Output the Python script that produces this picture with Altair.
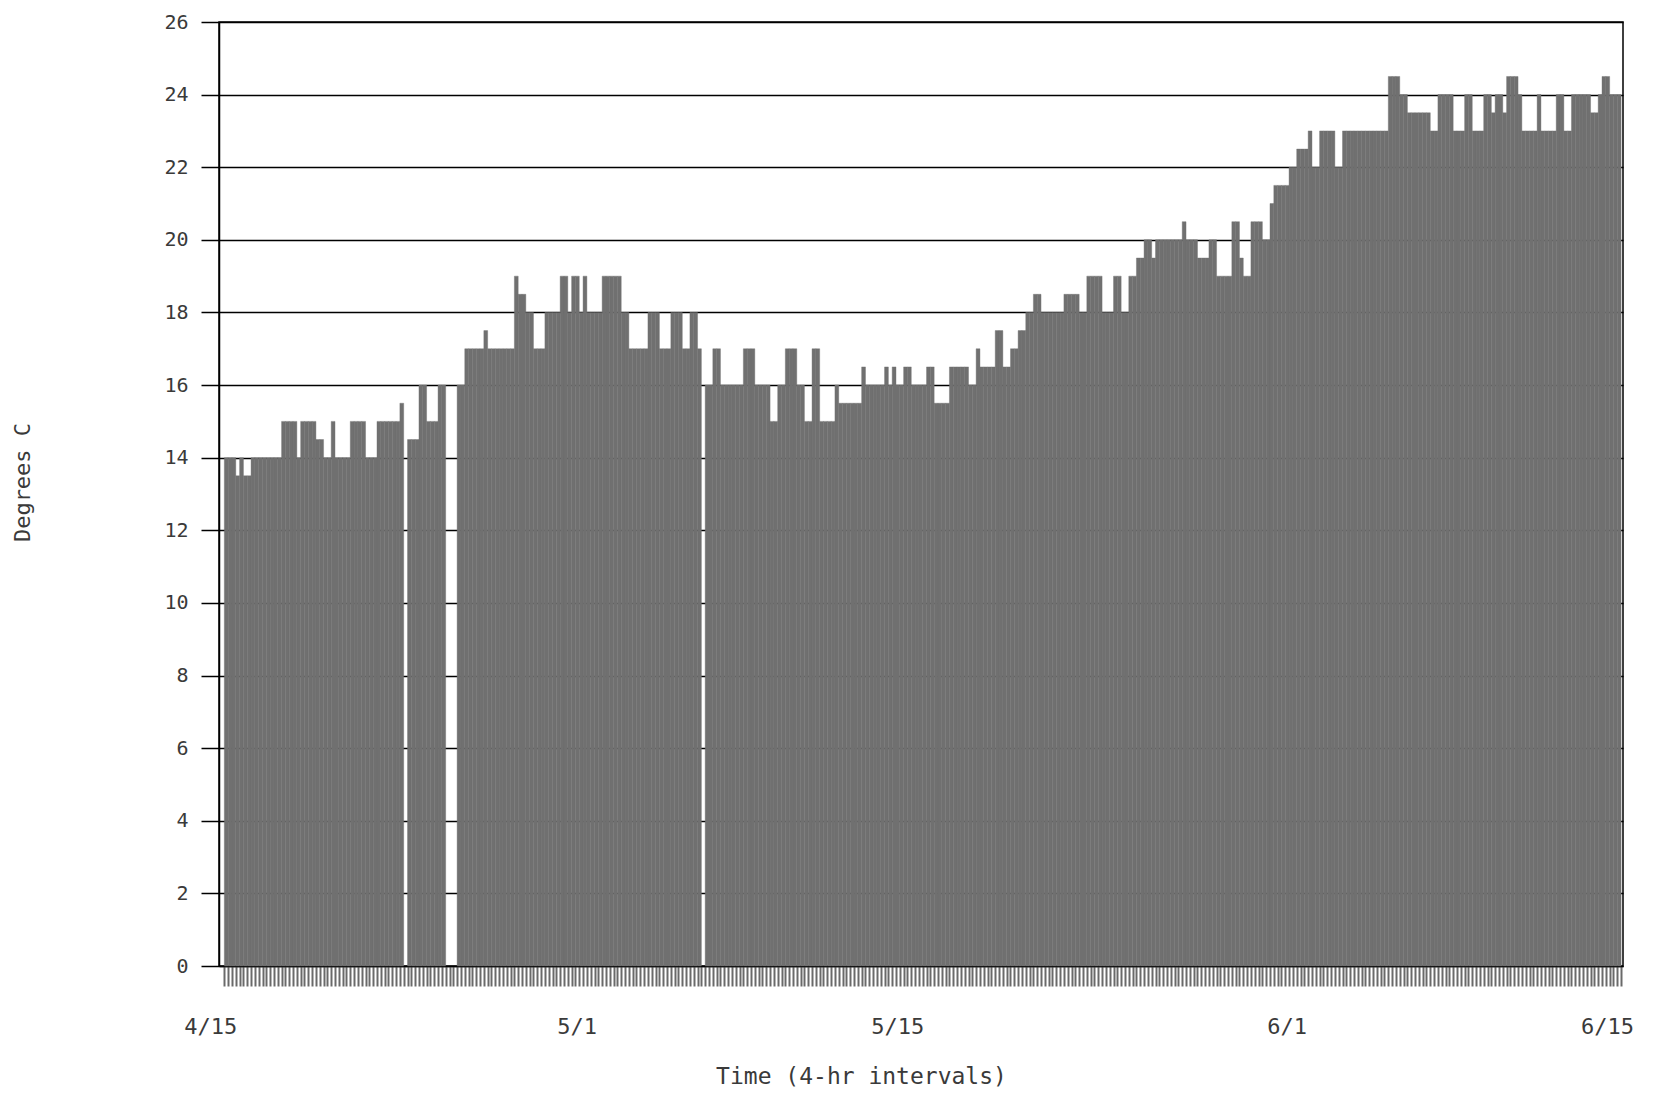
import altair as alt
import pandas as pd

# Temperature readings (degrees C), six 4-hour readings per day; None = missing reading
temps_apr = [  # 4/15 .. 4/30
    [14, 14, 14, 13.5, 14, 13.5],
    [13.5, 14, 14, 14, 14, 14],
    [14, 14, 14, 15, 15, 15],
    [15, 14, 15, 15, 15, 15],
    [14.5, 14.5, 14, 14, 15, 14],
    [14, 14, 14, 15, 15, 15],
    [15, 14, 14, 14, 15, 15],
    [15, 15, 15, 15, 15.5, None],
    [14.5, 14.5, 14.5, 16, 16, 15],
    [15, 15, 16, 16, None, None],
    [None, 16, 16, 17, 17, 17],
    [17, 17, 17.5, 17, 17, 17],
    [17, 17, 17, 17, 19, 18.5],
    [18.5, 18, 18, 17, 17, 17],
    [18, 18, 18, 18, 19, 19],
    [18, 19, 19, 18, 19, 18],
]
temps_may = [  # 5/1 .. 5/31
    [18, 18, 18, 19, 19, 19],
    [19, 19, 18, 18, 17, 17],
    [17, 17, 17, 18, 18, 18],
    [17, 17, 17, 18, 18, 18],
    [17, 17, 18, 18, 17, None],
    [16, 16, 17, 17, 16, 16],
    [16, 16, 16, 16, 17, 17],
    [17, 16, 16, 16, 16, 15],
    [15, 16, 16, 17, 17, 17],
    [16, 16, 15, 15, 17, 17],
    [15, 15, 15, 15, 16, 15.5],
    [15.5, 15.5, 15.5, 15.5, 15.5, 16.5],
    [16, 16, 16, 16, 16, 16.5],
    [16, 16.5, 16, 16, 16.5, 16.5],
    [16, 16, 16, 16, 16.5, 16.5],
    [15.5, 15.5, 15.5, 15.5, 16.5, 16.5],
    [16.5, 16.5, 16.5, 16, 16, 17],
    [16.5, 16.5, 16.5, 16.5, 17.5, 17.5],
    [16.5, 16.5, 17, 17, 17.5, 17.5],
    [18, 18, 18.5, 18.5, 18, 18],
    [18, 18, 18, 18, 18.5, 18.5],
    [18.5, 18.5, 18, 18, 19, 19],
    [19, 19, 18, 18, 18, 19],
    [19, 18, 18, 19, 19, 19.5],
    [19.5, 20, 20, 19.5, 20, 20],
    [20, 20, 20, 20, 20, 20.5],
    [20, 20, 20, 19.5, 19.5, 19.5],
    [20, 20, 19, 19, 19, 19],
    [20.5, 20.5, 19.5, 19, 19, 20.5],
    [20.5, 20.5, 20, 20, 21, 21.5],
    [21.5, 21.5, 21.5, 22, 22, 22.5],
]
temps_jun = [  # 6/1 .. 6/14
    [22.5, 22.5, 23, 22, 22, 23],
    [23, 23, 23, 22, 22, 23],
    [23, 23, 23, 23, 23, 23],
    [23, 23, 23, 23, 23, 24.5],
    [24.5, 24.5, 24, 24, 23.5, 23.5],
    [23.5, 23.5, 23.5, 23.5, 23, 23],
    [24, 24, 24, 24, 23, 23],
    [23, 24, 24, 23, 23, 23],
    [24, 24, 23.5, 24, 24, 23.5],
    [24.5, 24.5, 24.5, 24, 23, 23],
    [23, 23, 24, 23, 23, 23],
    [23, 24, 24, 23, 23, 24],
    [24, 24, 24, 24, 23.5, 23.5],
    [24, 24.5, 24.5, 24, 24, 24],
]

tick_labels = ["4/15", "5/1", "5/15", "6/1", "6/15"]
tick_days = [0, 16, 30, 47, 61]
y_ticks = list(range(0, 27, 2))

readings_per_day = 6
days = temps_apr + temps_may + temps_jun
values = [v for day in days for v in day]
n = len(values)
df = pd.DataFrame({"idx": list(range(n)), "temp": values}).dropna()

label_pos = [d * readings_per_day for d in tick_days]
label_expr = " : ".join(
    f"datum.value == {p} ? '{t}'" for p, t in zip(label_pos, tick_labels)
) + " : ''"

FONT = "DejaVu Sans Mono"

chart = (
    alt.Chart(df)
    .transform_calculate(idx_end="datum.idx + 1")
    .mark_bar(color="#707070", stroke="#707070", strokeWidth=0.4)
    .encode(
        x=alt.X(
            "idx:Q",
            scale=alt.Scale(domain=[-1.4, n + 0.5], nice=False, zero=False),
            axis=alt.Axis(
                values=list(range(n + 1)),
                labelExpr=label_expr,
                labelOverlap=False,
                labelFlush=False,
                grid=False,
                tickSize=20,
                tickWidth=2,
                tickColor="#6a6a6a",
                domainColor="black",
                domainWidth=1.5,
                labelPadding=30,
                labelOffset=-14,
                labelFont=FONT,
                labelFontSize=22,
                labelColor="#3a3a3a",
                title="Time (4-hr intervals)",
                titleFont=FONT,
                titleFontSize=23,
                titleFontWeight="normal",
                titleColor="#3a3a3a",
                titleX=642,
                titleY=110,
                titleAlign="center",
                titleBaseline="middle",
            ),
        ),
        x2="idx_end:Q",
        y=alt.Y(
            "temp:Q",
            scale=alt.Scale(domain=[0, 26], nice=False),
            axis=alt.Axis(
                values=y_ticks,
                grid=True,
                gridColor="black",
                gridWidth=1.5,
                tickSize=18,
                tickColor="black",
                tickWidth=1.5,
                domainColor="black",
                domainWidth=1.5,
                labelPadding=13,
                labelFont=FONT,
                labelFontSize=20,
                labelColor="#3a3a3a",
                title="Degrees C",
                titleFont=FONT,
                titleFontSize=22,
                titleFontWeight="normal",
                titleColor="#3a3a3a",
                titleAngle=270,
                titleX=-197,
                titleY=460,
                titleAlign="center",
                titleBaseline="middle",
            ),
        ),
        y2=alt.datum(0),
    )
    .properties(
        width=1404,
        height=944,
        autosize=alt.AutoSizeParams(type="none"),
        padding={"left": 211, "top": 14, "right": 24, "bottom": 125},
    )
    .configure_view(stroke="black", strokeWidth=1.5)
)

chart.save("out.html", embed_options={"renderer": "svg", "actions": False})
